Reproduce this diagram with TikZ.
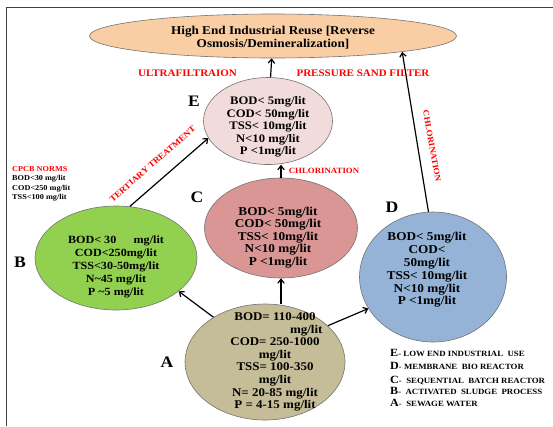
\documentclass[tikz,border=0pt]{standalone}
\usepackage{fontspec}
\setmainfont{Liberation Serif}[FakeStretch=1.1]
\usepackage{tikz}
\usetikzlibrary{arrows.meta,shapes.geometric,calc}

\definecolor{peach}{RGB}{250,206,164}
\definecolor{pinkE}{RGB}{242,220,219}
\definecolor{roseC}{RGB}{217,150,148}
\definecolor{greenB}{RGB}{146,208,80}
\definecolor{blueD}{RGB}{149,179,215}
\definecolor{khakiA}{RGB}{196,189,151}

\begin{document}
\begin{tikzpicture}[x=1pt, y=-1pt,
    blob/.style={ellipse, draw=black!55, line width=0.6pt, inner sep=0pt},
    vals/.style={font=\fontsize{11.5}{12.4}\selectfont\bfseries, align=center, inner sep=0pt},
    arr/.style={-{Straight Barb[length=4pt, width=6.5pt]}, line width=1.2pt},
    redlab/.style={font=\fontsize{10}{12}\selectfont\bfseries, text=red, inner sep=0pt},
    tag/.style={font=\fontsize{16}{18}\selectfont\bfseries, inner sep=0pt},
    key/.style={font=\fontsize{8}{9}\selectfont\bfseries, anchor=west, inner sep=0pt}
  ]
  \useasboundingbox (0,0) rectangle (553,426);
  % frame
  \draw[black!75, line width=1.5pt] (6.5,426) -- (6.5,7.5) -- (553,7.5);

  % top: reuse
  \node[blob, fill=peach, minimum width=367pt, minimum height=44pt] (top) at (273,36) {};
  \node[vals, font=\fontsize{12}{13}\selectfont\bfseries] (toptxt) at (273,37.5)
    {High End Industrial Reuse [Reverse\\Osmosis/Demineralization]};

  % the five stages
  \node[blob, fill=pinkE, minimum width=129pt, minimum height=87pt] (E) at (268,121) {};
  \node[blob, fill=roseC, minimum width=153pt, minimum height=100pt] (C) at (281,228) {};
  \node[blob, fill=greenB, minimum width=162pt, minimum height=104pt] (B) at (116,258) {};
  \node[blob, fill=blueD, minimum width=147pt, minimum height=130pt] (D) at (433,277) {};
  \node[blob, fill=khakiA, minimum width=160pt, minimum height=116pt] (A) at (265,362) {};

  \node[vals] (Etxt) at (268,127)
    {BOD< 5mg/lit\\COD< 50mg/lit\\TSS< 10mg/lit\\N<10 mg/lit\\P <1mg/lit};
  \node[vals, font=\fontsize{12}{12.4}\selectfont\bfseries] (Ctxt) at (278,237.5)
    {BOD< 5mg/lit\\COD< 50mg/lit\\TSS< 10mg/lit\\N<10 mg/lit\\P <1mg/lit};
  \node[vals, font=\fontsize{11}{13}\selectfont\bfseries] (Btxt) at (116,267)
    {BOD< 30\hspace{1.3em} mg/lit\\COD<250mg/lit\\TSS<30-50mg/lit\\
     N\textasciitilde 45 mg/lit\\P \textasciitilde 5 mg/lit};
  \node[vals, font=\fontsize{12}{12.8}\selectfont\bfseries] (Dtxt) at (427,270)
    {BOD< 5mg/lit\\COD<\\50mg/lit\\TSS< 10mg/lit\\N<10 mg/lit\\P <1mg/lit};
  \node[vals, font=\fontsize{11.8}{12.6}\selectfont\bfseries] (Atxt) at (275,362)
    {BOD= 110-400\\\hspace*{5.3em}mg/lit\\COD= 250-1000\\mg/lit\\TSS= 100-350\\mg/lit\\
     N= 20-85 mg/lit\\P = 4-15 mg/lit};

  % stage letters
  \node[tag] (tE) at (194,101) {E};
  \node[tag] (tC) at (197,197) {C};
  \node[tag] (tB) at (20,262) {B};
  \node[tag] (tD) at (392,207) {D};
  \node[tag] (tA) at (167,362) {A};

  % flows
  \draw[arr] (E) -- (top);
  \draw[arr] (C.north) -- (C.north |- E.south);
  \draw[arr] (C.south |- A.north) -- (C.south);
  \draw[arr] (A.139) -- (B.-28);
  \draw[arr] (A.30) -- (D.206);
  \draw[arr] (B.75) -- (E.196);
  \draw[arr] (D.94) -- (top.-7);

  % treatment labels
  \node[redlab] (uf) at (187.5,73) {ULTRAFILTRAION};
  \node[redlab] (psf) at (363,73) {PRESSURE SAND FILTER};
  \node[redlab, font=\fontsize{8}{10}\selectfont\bfseries] (chlC) at (324,171) {CHLORINATION};
  \node[redlab, font=\fontsize{8.5}{10}\selectfont\bfseries, rotate=41] (tert) at (152.5,164)
    {TERTIARY TREATMENT};
  \node[redlab, font=\fontsize{8.3}{10}\selectfont\bfseries, rotate=-80] (chlD) at (432,146)
    {CHLORINATION};

  % norms
  \node[font=\fontsize{7.5}{9.5}\selectfont\bfseries, align=left, anchor=north west,
    inner sep=0pt] (cpcb) at (12,166)
    {\textcolor{red}{CPCB NORMS}\\BOD<30 mg/lit\\COD<250 mg/lit\\TSS<100 mg/lit};

  % key
  \node[key] (kE) at (390,353) {{\fontsize{11}{11}\selectfont E}- LOW END INDUSTRIAL\ \ USE};
  \node[key] (kD) at (390,366) {{\fontsize{11}{11}\selectfont D}- MEMBRANE\ \ BIO REACTOR};
  \node[key] (kC) at (390,380) {{\fontsize{11}{11}\selectfont C}-\ \ SEQUENTIAL\ \ BATCH\ REACTOR};
  \node[key] (kB) at (390,391) {{\fontsize{11}{11}\selectfont B}-\ \ ACTIVATED\ \ SLUDGE\ \ PROCESS};
  \node[key] (kA) at (390,403) {{\fontsize{11}{11}\selectfont A}-\ \ SEWAGE\ WATER};
\end{tikzpicture}
\end{document}
